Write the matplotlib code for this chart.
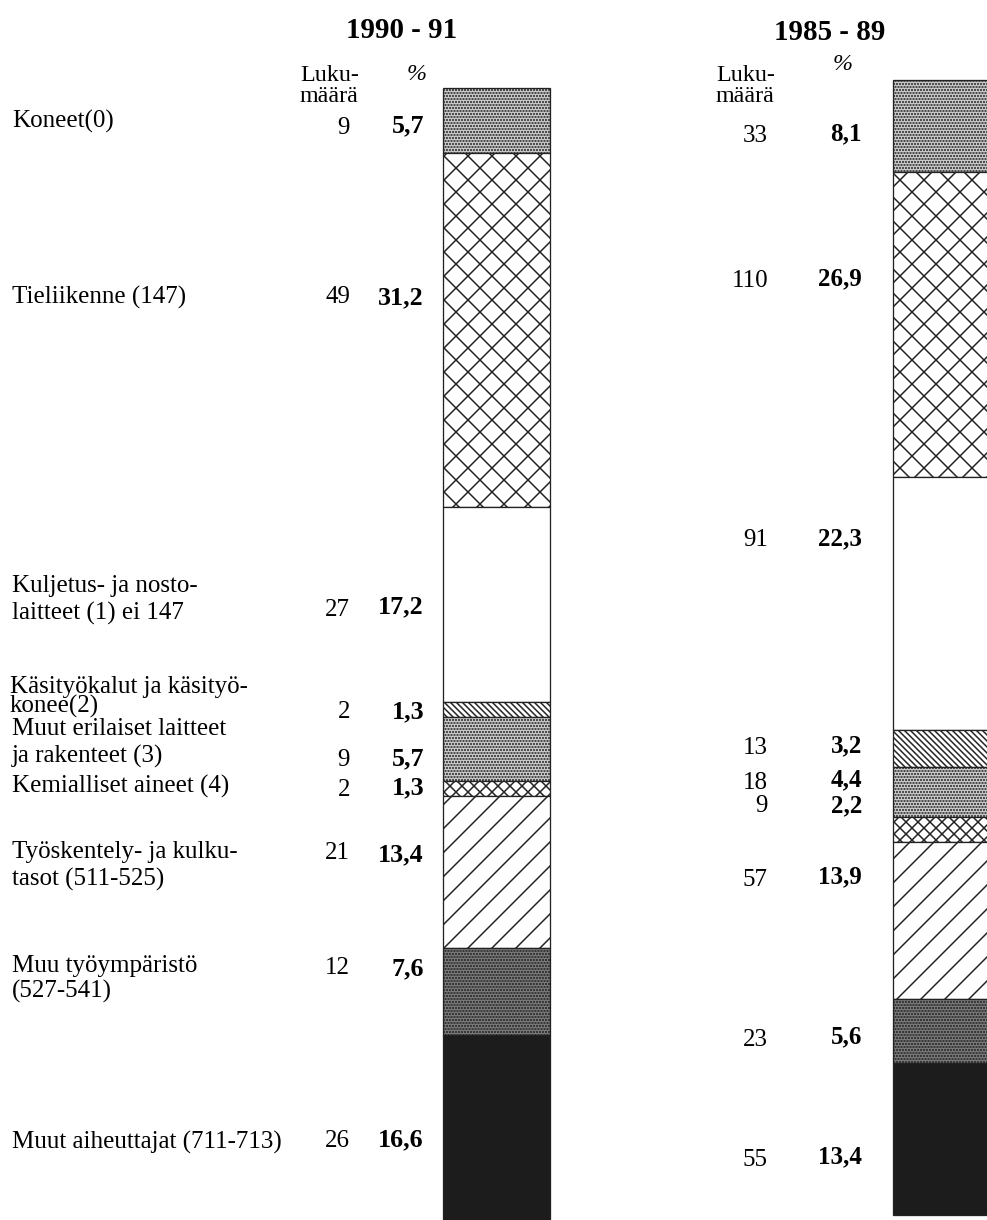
import matplotlib
matplotlib.use("Agg")
import matplotlib.pyplot as plt
import numpy as np

plt.rcParams['font.family'] = ['Liberation Serif', 'DejaVu Serif']
plt.rcParams['hatch.linewidth'] = 1.5

# data
categories = ["Koneet(0)", "Tieliikenne (147)", "Kuljetus- ja nosto-\nlaitteet (1) ei 147",
              "Käsityökalut ja käsityö-\nkonee(2)", "Muut erilaiset laitteet\nja rakenteet (3)",
              "Kemialliset aineet (4)", "Työskentely- ja kulku-\ntasot (511-525)",
              "Muu työympäristö\n(527-541)", "Muut aiheuttajat (711-713)"]
count_9091 = [9, 49, 27, 2, 9, 2, 21, 12, 26]
pct_9091 = [5.7, 31.2, 17.2, 1.3, 5.7, 1.3, 13.4, 7.6, 16.6]
count_8589 = [33, 110, 91, 13, 18, 9, 57, 23, 55]
pct_8589 = [8.1, 26.9, 22.3, 3.2, 4.4, 2.2, 13.9, 5.6, 13.4]

# fills: (facecolor, hatch)
fills = [("#cacaca", "...."), ("white", "x"), ("white", ""), ("white", "\\\\\\\\"),
         ("#cacaca", "...."), ("white", "xx"), ("white", "/"), ("#7a7a7a", "...."),
         ("#1c1c1c", "")]

W, H = 987, 1220
DPI = 72
PX = 11.35  # pixels per percent
fig = plt.figure(figsize=(W / DPI, H / DPI), dpi=DPI)

def px(x, y):
    return x / W, 1 - y / H

def stack(top_px, left_px, width_px, pcts):
    ax = fig.add_axes([0, 0, 1, 1], facecolor="none")
    ax.set_xlim(0, W)
    ax.set_ylim((H - top_px) / PX, -top_px / PX)
    ax.axis("off")
    bottoms = np.concatenate([[0], np.cumsum(pcts)[:-1]])
    for p, b, (fc, h) in zip(pcts, bottoms, fills):
        ax.bar(left_px, p, bottom=b, width=width_px, align="edge",
               color=fc, hatch=h, edgecolor="#222222", linewidth=1.3)
    return ax

stack(88, 443, 107, pct_9091)
stack(80, 893, 140, pct_8589)

fs = 25
# titles / column heads
fig.text(*px(402, 30), "1990 - 91", fontsize=29, fontweight="bold", ha="center", va="center")
fig.text(*px(830, 33), "1985 - 89", fontsize=29, fontweight="bold", ha="center", va="center")
fig.text(*px(300, 86), "Luku-\nmäärä", fontsize=24, ha="left", va="center", linespacing=0.95)
fig.text(*px(417, 74), "%", fontsize=24, style="italic", ha="center", va="center")
fig.text(*px(716, 86), "Luku-\nmäärä", fontsize=24, ha="left", va="center", linespacing=0.95)
fig.text(*px(843, 65), "%", fontsize=24, style="italic", ha="center", va="center")

label_y = [121, 297, 600, 697, 743, 786, 866, 979, 1142]
label_x = [12, 12, 12, 10, 12, 12, 12, 12, 12]
label_ls = [1.1, 1.1, 1.33, 0.85, 1.25, 1.1, 1.3, 1.2, 1.1]
for t, x, y, ls in zip(categories, label_x, label_y, label_ls):
    fig.text(*px(x, y), t, fontsize=fs, ha="left", va="center", linespacing=ls)

cy_l = [128, 297, 610, 712, 760, 790, 853, 968, 1141]
py_l = [126, 298, 607, 712, 759, 788, 855, 969, 1140]
for c, p, y1, y2 in zip(count_9091, pct_9091, cy_l, py_l):
    fig.text(*px(350, y1), str(c), fontsize=fs, ha="right", va="center")
    fig.text(*px(424, y2), f"{p:.1f}".replace(".", ","), fontsize=26,
             fontweight="bold", ha="right", va="center")

cy_r = [136, 281, 540, 748, 783, 806, 880, 1040, 1160]
py_r = [134, 279, 539, 746, 780, 806, 877, 1037, 1157]
for c, p, y1, y2 in zip(count_8589, pct_8589, cy_r, py_r):
    fig.text(*px(768, y1), str(c), fontsize=fs, ha="right", va="center")
    fig.text(*px(862, y2), f"{p:.1f}".replace(".", ","), fontsize=25,
             fontweight="bold", ha="right", va="center")

fig.savefig("out.png", dpi=DPI)
